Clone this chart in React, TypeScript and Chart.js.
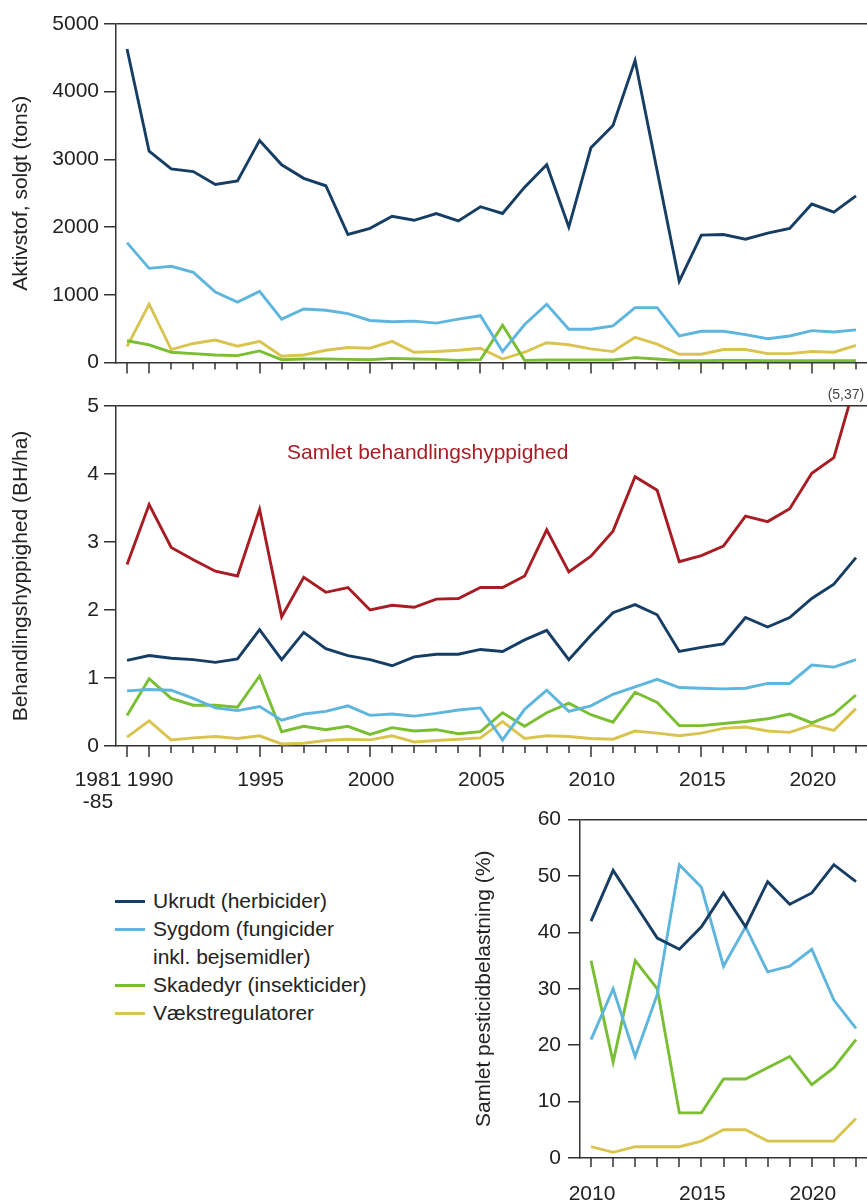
import React, { useEffect, useRef } from 'react';
import { Chart, registerables } from 'chart.js';

Chart.register(...registerables);

// ---------- data ----------
const periods = ['1981-85', '1990', '1991', '1992', '1993', '1994', '1995', '1996', '1997', '1998', '1999',
  '2000', '2001', '2002', '2003', '2004', '2005', '2006', '2007', '2008', '2009',
  '2010', '2011', '2012', '2013', '2014', '2015', '2016', '2017', '2018', '2019',
  '2020', '2021', '2022'];

// Aktivstof, solgt (tons)
const tonsHerbicider = [4630, 3120, 2860, 2820, 2630, 2680, 3280, 2920, 2720, 2610, 1890, 1980, 2160, 2100, 2200, 2090, 2300, 2200, 2590, 2920, 2000, 3170, 3500, 4460, 2830, 1200, 1880, 1890, 1820, 1910, 1980, 2340, 2220, 2460];
const tonsFungicider = [1770, 1390, 1420, 1330, 1040, 890, 1050, 640, 790, 770, 720, 620, 600, 610, 580, 640, 690, 160, 560, 860, 490, 490, 540, 810, 810, 390, 460, 460, 410, 350, 390, 470, 450, 480];
const tonsInsekticider = [320, 260, 150, 130, 110, 100, 170, 40, 50, 50, 45, 40, 60, 50, 45, 30, 40, 550, 30, 35, 35, 35, 35, 70, 50, 25, 25, 30, 30, 25, 25, 25, 25, 25];
const tonsVaekstregulatorer = [235, 860, 190, 280, 330, 240, 310, 90, 110, 180, 220, 210, 310, 150, 160, 180, 210, 50, 150, 290, 260, 200, 160, 370, 270, 120, 120, 190, 190, 130, 130, 160, 150, 250];

// Behandlingshyppighed (BH/ha)
const bhSamlet = [2.67, 3.55, 2.92, 2.74, 2.57, 2.50, 3.48, 1.90, 2.48, 2.26, 2.33, 2.00, 2.07, 2.04, 2.16, 2.17, 2.33, 2.33, 2.50, 3.18, 2.56, 2.79, 3.16, 3.96, 3.76, 2.71, 2.80, 2.94, 3.38, 3.30, 3.49, 4.01, 4.24, 5.37];
const bhHerbicider = [1.26, 1.33, 1.29, 1.27, 1.23, 1.28, 1.71, 1.27, 1.67, 1.43, 1.33, 1.27, 1.18, 1.31, 1.35, 1.35, 1.42, 1.39, 1.56, 1.70, 1.27, 1.63, 1.96, 2.08, 1.93, 1.39, 1.45, 1.50, 1.89, 1.75, 1.89, 2.17, 2.38, 2.77];
const bhFungicider = [0.81, 0.83, 0.82, 0.70, 0.56, 0.52, 0.58, 0.38, 0.47, 0.51, 0.59, 0.45, 0.47, 0.44, 0.48, 0.53, 0.56, 0.09, 0.54, 0.82, 0.51, 0.59, 0.76, 0.87, 0.98, 0.86, 0.85, 0.84, 0.85, 0.92, 0.92, 1.19, 1.16, 1.27];
const bhInsekticider = [0.45, 0.99, 0.70, 0.60, 0.60, 0.57, 1.03, 0.21, 0.29, 0.24, 0.29, 0.17, 0.27, 0.22, 0.24, 0.18, 0.21, 0.49, 0.29, 0.49, 0.63, 0.46, 0.35, 0.79, 0.64, 0.30, 0.30, 0.33, 0.36, 0.40, 0.47, 0.34, 0.47, 0.75];
const bhVaekstregulatorer = [0.13, 0.37, 0.09, 0.12, 0.14, 0.11, 0.15, 0.03, 0.04, 0.08, 0.10, 0.09, 0.15, 0.06, 0.08, 0.10, 0.12, 0.36, 0.11, 0.15, 0.14, 0.11, 0.10, 0.22, 0.19, 0.15, 0.19, 0.26, 0.28, 0.22, 0.20, 0.31, 0.23, 0.55];

// Samlet pesticidbelastning (%)
const loadYears = ['2010', '2011', '2012', '2013', '2014', '2015', '2016', '2017', '2018', '2019', '2020', '2021', '2022'];
const loadHerbicider = [42, 51, 45, 39, 37, 41, 47, 41, 49, 45, 47, 52, 49];
const loadFungicider = [21, 30, 18, 29, 52, 48, 34, 41, 33, 34, 37, 28, 23];
const loadInsekticider = [35, 17, 35, 30, 8, 8, 14, 14, 16, 18, 13, 16, 21];
const loadVaekstregulatorer = [2, 1, 2, 2, 2, 3, 5, 5, 3, 3, 3, 3, 7];

// tick labels
const majorPeriods = ['1981-85', '1990', '1995', '2000', '2005', '2010', '2015', '2020'];
const shownLoadYears = ['2010', '2015', '2020'];

const seriesNames = ['Ukrudt (herbicider)', 'Sygdom (fungicider inkl. bejsemidler)', 'Skadedyr (insekticider)', 'Vækstregulatorer'];
const totalName = 'Samlet behandlingshyppighed';
const totalClippedNote = '(5,37)';

// ---------- style ----------
const FONT = '"Liberation Sans", Arial, Helvetica, sans-serif';
const INK = '#222222';
const AXIS = '#333333';
const C_HERB = '#163e64';
const C_FUNG = '#5eb6de';
const C_INSECT = '#7abe32';
const C_GROWTH = '#dac450';
const C_TOTAL = '#a81c24';
const colors = [C_HERB, C_FUNG, C_INSECT, C_GROWTH];

const xDeco = {
  id: 'xDeco',
  afterDraw(chart: any, _args: any, opts: any) {
    if (!opts || !opts.enabled) return;
    const { ctx, chartArea } = chart;
    const xs = chart.scales.x;
    const labels = chart.data.labels as string[];
    ctx.save();
    ctx.strokeStyle = AXIS;
    ctx.lineWidth = 1.5;
    labels.forEach((lab, i) => {
      const px = Math.round(xs.getPixelForValue(i));
      const len = opts.major.includes(lab) ? opts.majorLen : opts.minorLen;
      ctx.beginPath();
      ctx.moveTo(px, chartArea.bottom);
      ctx.lineTo(px, chartArea.bottom + len);
      ctx.stroke();
    });
    if (opts.shown) {
      ctx.fillStyle = INK;
      ctx.font = `21px ${FONT}`;
      ctx.textAlign = 'center';
      ctx.textBaseline = 'middle';
      labels.forEach((lab, i) => {
        if (!opts.shown.includes(lab)) return;
        const px = xs.getPixelForValue(i);
        const parts = lab.split(/(?=-)/);
        if (parts.length > 1) {
          ctx.fillText(parts[0], px - 29, chartArea.bottom + opts.labelDy);
          ctx.fillText(parts[1], px - 29, chartArea.bottom + opts.labelDy + 22);
        } else {
          ctx.fillText(lab, px + 1, chartArea.bottom + opts.labelDy);
        }
      });
    }
    ctx.restore();
  },
};

const notes = {
  id: 'notes',
  afterDraw(chart: any, _args: any, opts: any) {
    if (!opts || !opts.enabled) return;
    const { ctx, chartArea } = chart;
    const xs = chart.scales.x;
    ctx.save();
    ctx.textBaseline = 'middle';
    ctx.fillStyle = C_TOTAL;
    ctx.font = `21px ${FONT}`;
    ctx.textAlign = 'left';
    ctx.fillText(totalName, chartArea.left + 171, chartArea.top + 47);
    ctx.fillStyle = '#444444';
    ctx.font = `14px ${FONT}`;
    ctx.textAlign = 'center';
    const last = xs.getPixelForValue(periods.length - 1);
    ctx.fillText(totalClippedNote, last - 10, chartArea.top - 11);
    ctx.restore();
  },
};

function line(label: string, data: number[], color: string) {
  return {
    label,
    data,
    borderColor: color,
    backgroundColor: color,
    borderWidth: 2.9,
    pointRadius: 0,
    pointHoverRadius: 0,
    tension: 0,
    fill: false,
  };
}

function yAxis(max: number, step: number, title: string, width: number, titlePad: number, tickPad: number) {
  return {
    min: 0,
    max,
    afterFit: (s: any) => { s.width = width; },
    ticks: {
      stepSize: step,
      color: INK,
      font: { family: FONT, size: 21 },
      padding: tickPad,
      callback: (v: any) => String(v),
    },
    grid: {
      display: true,
      drawOnChartArea: true,
      drawTicks: true,
      tickLength: 12,
      tickColor: AXIS,
      tickWidth: 1.5,
      lineWidth: 1.5,
      color: (c: any) => (c.tick && c.tick.value === max ? AXIS : 'rgba(0,0,0,0)'),
    },
    border: { display: true, color: AXIS, width: 1.5 },
    title: { display: true, text: title, color: INK, font: { family: FONT, size: 21 }, padding: { top: titlePad, bottom: 0 } },
  };
}

function xAxis(height: number) {
  return {
    type: 'category',
    offset: true,
    afterFit: (s: any) => { s.height = height; },
    ticks: { display: false },
    grid: { display: false },
    border: { display: true, color: AXIS, width: 1.5 },
  };
}

function baseOptions(padTop: number, scales: any, plugins: any) {
  return {
    responsive: false,
    animation: false,
    devicePixelRatio: 1,
    layout: { padding: { top: padTop, left: 0, right: 0, bottom: 0 } },
    scales,
    plugins: { legend: { display: false }, tooltip: { enabled: false }, ...plugins },
  };
}

function makeTonsConfig(): any {
  return {
    type: 'line',
    data: {
      labels: periods,
      datasets: [
        line(seriesNames[0], tonsHerbicider, C_HERB),
        line(seriesNames[1], tonsFungicider, C_FUNG),
        line(seriesNames[2], tonsInsekticider, C_INSECT),
        line(seriesNames[3], tonsVaekstregulatorer, C_GROWTH),
      ],
    },
    options: baseOptions(24, {
      x: xAxis(15),
      y: yAxis(5000, 1000, 'Aktivstof, solgt (tons)', 116, 9, 5),
    }, {
      xDeco: { enabled: true, major: majorPeriods, majorLen: 11, minorLen: 7 },
      notes: { enabled: false },
    }),
    plugins: [xDeco, notes],
  };
}

function makeBhConfig(): any {
  return {
    type: 'line',
    data: {
      labels: periods,
      datasets: [
        line(seriesNames[0], bhHerbicider, C_HERB),
        line(seriesNames[1], bhFungicider, C_FUNG),
        line(seriesNames[2], bhInsekticider, C_INSECT),
        line(seriesNames[3], bhVaekstregulatorer, C_GROWTH),
        line(totalName, bhSamlet, C_TOTAL),
      ],
    },
    options: baseOptions(26, {
      x: xAxis(74),
      y: yAxis(5, 1, 'Behandlingshyppighed (BH/ha)', 116, 9, 5),
    }, {
      xDeco: { enabled: true, major: majorPeriods, majorLen: 11, minorLen: 7, shown: majorPeriods, labelDy: 34 },
      notes: { enabled: true },
    }),
    plugins: [xDeco, notes],
  };
}

function makeLoadConfig(): any {
  return {
    type: 'line',
    data: {
      labels: loadYears,
      datasets: [
        line(seriesNames[0], loadHerbicider, C_HERB),
        line(seriesNames[1], loadFungicider, C_FUNG),
        line(seriesNames[2], loadInsekticider, C_INSECT),
        line(seriesNames[3], loadVaekstregulatorer, C_GROWTH),
      ],
    },
    options: baseOptions(18, {
      x: xAxis(44),
      y: yAxis(60, 10, 'Samlet pesticidbelastning (%)', 120, 12, 7),
    }, {
      xDeco: { enabled: true, major: loadYears, majorLen: 9, minorLen: 9, shown: shownLoadYears, labelDy: 36 },
      notes: { enabled: false },
    }),
    plugins: [xDeco, notes],
  };
}

function ChartPanel(props: { left: number; top: number; width: number; height: number; make: () => any }) {
  const ref = useRef<HTMLCanvasElement>(null);
  useEffect(() => {
    const chart = new Chart(ref.current as HTMLCanvasElement, props.make());
    return () => chart.destroy();
  }, []);
  return (
    <canvas
      ref={ref}
      width={props.width}
      height={props.height}
      style={{ position: 'absolute', left: props.left, top: props.top, width: props.width, height: props.height }}
    />
  );
}

function Legend() {
  const rows: { color: string; lines: string[] }[] = [
    { color: colors[0], lines: [seriesNames[0]] },
    { color: colors[1], lines: ['Sygdom (fungicider', 'inkl. bejsemidler)'] },
    { color: colors[2], lines: [seriesNames[2]] },
    { color: colors[3], lines: [seriesNames[3]] },
  ];
  return (
    <div style={{ position: 'absolute', left: 115, top: 887, fontFamily: FONT, fontSize: 21, lineHeight: '28px', color: INK }}>
      {rows.map((r, i) => (
        <div key={i} style={{ display: 'flex', alignItems: 'flex-start' }}>
          <div style={{ width: 30, height: 3, background: r.color, marginTop: 13, marginRight: 8, flex: '0 0 auto' }} />
          <div>
            {r.lines.map((t, j) => (
              <div key={j} style={{ whiteSpace: 'nowrap' }}>{t}</div>
            ))}
          </div>
        </div>
      ))}
    </div>
  );
}

export default function App() {
  return (
    <div style={{ position: 'absolute', left: 0, top: 0, width: 867, height: 1202, overflow: 'hidden', background: '#ffffff' }}>
      <ChartPanel left={0} top={0} width={867} height={380} make={makeTonsConfig} />
      <ChartPanel left={0} top={380} width={867} height={440} make={makeBhConfig} />
      <ChartPanel left={460} top={800} width={407} height={402} make={makeLoadConfig} />
      <Legend />
    </div>
  );
}
